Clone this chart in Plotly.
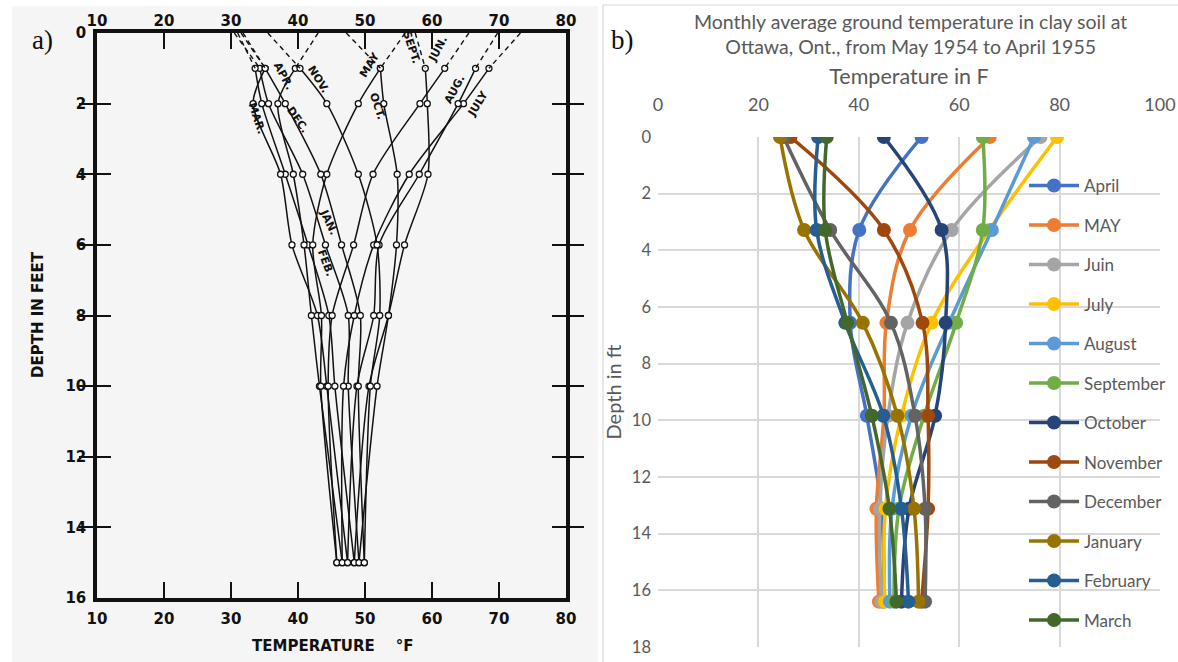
import plotly.graph_objects as go

W, H = 1178, 662

# ---------------- Panel a) : scanned chart (depth in feet, temperature in F) ----------------
a_months = ["JAN.", "FEB.", "MAR.", "APR.", "MAY", "JUN.", "JULY", "AUG.", "SEPT.", "OCT.", "NOV.", "DEC."]
a_depth_dashed = [0, 1]
a_depth = [1, 2, 4, 6, 8, 10, 15]
a_surface = [30.5, 31.0, 31.8, 43.0, 56.0, 65.5, 73.2, 69.8, 57.5, 47.2, 35.5, 31.5]
a_jan = [34.3, 35.6, 40.7, 44.1, 47.5, 47.5, 49.1]
a_feb = [33.6, 34.6, 38.1, 41.5, 44.6, 45.5, 48.4]
a_mar = [35.1, 33.3, 37.4, 39.1, 42.9, 44.3, 47.4]
a_apr = [39.6, 37.0, 39.3, 40.9, 42.0, 43.2, 46.6]
a_may = [52.3, 49.0, 44.3, 42.2, 43.5, 43.4, 45.8]
a_jun = [61.9, 58.2, 51.2, 48.3, 45.1, 44.5, 45.8]
a_jul = [68.5, 64.7, 56.6, 51.3, 48.4, 46.8, 46.6]
a_aug = [66.5, 63.9, 58.1, 52.1, 51.3, 48.8, 47.4]
a_sep = [59.0, 59.3, 59.4, 55.9, 53.5, 50.6, 48.4]
a_oct = [52.3, 52.8, 54.8, 54.7, 53.5, 51.8, 49.1]
a_nov = [40.3, 44.3, 49.0, 51.8, 52.2, 50.8, 49.9]
a_dec = [35.1, 38.1, 43.4, 46.5, 49.3, 49.0, 49.9]
a_series = [a_jan, a_feb, a_mar, a_apr, a_may, a_jun, a_jul, a_aug, a_sep, a_oct, a_nov, a_dec]

# curve labels of panel a (temperature, depth, rotation)
a_label_T = [44.5, 44.2, 33.9, 37.9, 50.6, 60.9, 66.9, 63.4, 56.9, 51.9, 43.0, 39.9]
a_label_depth = [5.35, 6.52, 2.41, 1.22, 0.91, 0.48, 2.0, 1.61, 0.42, 2.07, 1.33, 2.46]
a_label_angle = [65, 70, 72, 62, -58, -62, -58, -62, 72, 72, 58, 55]

a_x_ticks = [10, 20, 30, 40, 50, 60, 70, 80]
a_y_ticks = [0, 2, 4, 6, 8, 10, 12, 14, 16]

# ---------------- Panel b) : Excel chart ----------------
b_depth = [0, 3.28, 6.56, 9.84, 13.12, 16.4]
b_names = ["April", "MAY", "Juin", "July", "August", "September", "October",
           "November", "December", "January", "February", "March"]
b_april = [52.5, 40.1, 38.3, 41.6, 44.5, 45.0]
b_may = [66.1, 50.2, 45.5, 45.0, 43.5, 44.0]
b_juin = [76.2, 58.5, 49.7, 45.8, 44.2, 44.5]
b_july = [79.5, 66.0, 54.5, 48.5, 45.3, 45.2]
b_august = [74.9, 66.5, 58.0, 50.5, 46.6, 46.2]
b_september = [64.7, 64.7, 59.4, 53.0, 48.0, 47.0]
b_october = [45.0, 56.5, 57.3, 55.2, 50.0, 48.5]
b_november = [26.4, 45.0, 52.7, 53.8, 53.8, 52.5]
b_december = [25.0, 34.3, 46.4, 51.2, 53.2, 53.2]
b_january = [24.3, 29.1, 40.8, 47.7, 51.0, 51.9]
b_february = [31.9, 31.6, 37.3, 44.9, 48.5, 49.9]
b_march = [33.6, 33.3, 37.7, 42.6, 46.1, 47.5]
b_series = [b_april, b_may, b_juin, b_july, b_august, b_september, b_october,
            b_november, b_december, b_january, b_february, b_march]
b_colors = ["#4472C4", "#ED7D31", "#A5A5A5", "#FFC000", "#5B9BD5", "#70AD47",
            "#264478", "#9E480E", "#636363", "#997300", "#255E91", "#43682B"]

fig = go.Figure()

# panel a curves (dashed surface extrapolations live on the top axis x3, same scale as x)
for i, temps in enumerate(a_series):
    fig.add_trace(go.Scatter(
        x=[a_surface[i], temps[0]], y=a_depth_dashed, xaxis="x3", yaxis="y",
        mode="lines", line=dict(color="#111111", width=1.4, dash="5px,4px"),
        showlegend=False, hoverinfo="skip"))
    fig.add_trace(go.Scatter(
        x=temps, y=a_depth, xaxis="x", yaxis="y", mode="lines+markers",
        line=dict(color="#111111", width=1.5, shape="spline", smoothing=0.8),
        marker=dict(symbol="circle", size=6, color="white",
                    line=dict(color="#111111", width=1.3)),
        showlegend=False, name=a_months[i]))

# panel b curves
for i, temps in enumerate(b_series):
    fig.add_trace(go.Scatter(
        x=temps, y=b_depth, xaxis="x2", yaxis="y2", mode="lines+markers",
        name=b_names[i], legendgroup=b_names[i],
        line=dict(color=b_colors[i], width=3.5, shape="spline", smoothing=1.0),
        marker=dict(size=14, color=b_colors[i])))

annotations = []
for i, m in enumerate(a_months):
    annotations.append(dict(
        x=a_label_T[i], y=a_label_depth[i], xref="x", yref="y", text=m,
        showarrow=False, textangle=a_label_angle[i], xanchor="center", yanchor="middle",
        font=dict(family="DejaVu Sans", size=11, color="#111111", weight="bold")))


def paper_text(px, py, text, font, angle=0):
    return dict(x=px / W, y=1 - py / H, xref="paper", yref="paper", text=text,
                showarrow=False, textangle=angle, xanchor="center", yanchor="middle",
                font=font)


annotations += [
    paper_text(42, 40, "a)", dict(family="Liberation Serif", size=27, color="#111111")),
    paper_text(622, 40, "b)", dict(family="Liberation Serif", size=27, color="#111111")),
    paper_text(38, 315, "DEPTH IN FEET",
               dict(family="DejaVu Sans", size=15, color="#111111", weight="bold"), -90),
    paper_text(332, 646, "TEMPERATURE &nbsp;&nbsp;&nbsp;°F",
               dict(family="DejaVu Sans", size=15, color="#111111", weight="bold")),
    paper_text(910, 34,
               "Monthly average ground temperature in clay soil at<br>Ottawa, Ont., from May 1954 to April 1955",
               dict(family="Lato", size=19.5, color="#595959")),
]

a_tickfont = dict(family="DejaVu Sans", size=15, color="#111111", weight="bold")
b_grid = "#D9D9D9"

fig.update_layout(
    template="none",
    width=W, height=H, margin=dict(l=0, r=0, t=0, b=0, pad=0, autoexpand=False),
    paper_bgcolor="white", plot_bgcolor="rgba(0,0,0,0)",
    showlegend=True,
    xaxis=dict(domain=[97 / W, 566 / W], anchor="y", range=[10, 80], tickvals=a_x_ticks,
               ticks="inside", ticklen=16, tickwidth=2, tickcolor="#111111",
               showline=True, linewidth=3.5, linecolor="#111111", mirror="allticks",
               showgrid=False, zeroline=False, tickfont=a_tickfont, ticklabelstandoff=4,
               automargin=False),
    xaxis3=dict(overlaying="x", anchor="y", side="top", range=[10, 80], tickvals=a_x_ticks,
                ticks="", showline=False, showgrid=False, zeroline=False,
                tickfont=a_tickfont, ticklabelstandoff=3, automargin=False),
    yaxis=dict(domain=[1 - 598 / H, 1 - 33 / H], anchor="x", range=[16, 0], tickvals=a_y_ticks,
               ticks="inside", ticklen=14, tickwidth=2, tickcolor="#111111",
               showline=True, linewidth=3.5, linecolor="#111111", mirror="allticks",
               showgrid=False, zeroline=False, tickfont=a_tickfont, ticklabelstandoff=4,
               automargin=False),
    xaxis2=dict(domain=[658 / W, 1160 / W], anchor="y2", side="top", range=[0, 100], dtick=20,
                showgrid=True, gridcolor=b_grid, gridwidth=1.5, zeroline=False, showline=False,
                ticks="", tickfont=dict(family="Lato", size=18, color="#595959"),
                ticklabelstandoff=21, automargin=False,
                title=dict(text="Temperature in F", standoff=2,
                           font=dict(family="Lato", size=21.5, color="#595959"))),
    yaxis2=dict(domain=[1 - 647 / H, 1 - 137 / H], anchor="x2", range=[18, 0], dtick=2,
                showgrid=True, gridcolor=b_grid, gridwidth=1.5, zeroline=False, showline=False,
                ticks="", tickfont=dict(family="Lato", size=16.5, color="#595959"),
                ticklabelstandoff=6, automargin=False,
                title=dict(text="Depth in ft", standoff=4,
                           font=dict(family="Lato", size=20, color="#595959"))),
    legend=dict(x=1024 / W, y=1 - 168 / H, xanchor="left", yanchor="top",
                bgcolor="rgba(0,0,0,0)", font=dict(family="Lato", size=17, color="#595959"),
                tracegroupgap=14.4, itemwidth=50),
    annotations=annotations,
    shapes=[
        dict(type="rect", xref="paper", yref="paper", x0=12 / W, x1=598 / W, y0=0, y1=1 - 6 / H,
             fillcolor="#F5F5F5", line=dict(width=0), layer="below"),
        dict(type="rect", xref="paper", yref="paper", x0=603 / W, x1=1.01, y0=-0.01, y1=1 - 5 / H,
             fillcolor="rgba(0,0,0,0)", line=dict(color="#D9D9D9", width=1.2), layer="below"),
    ],
)

fig.write_html("out.html")
